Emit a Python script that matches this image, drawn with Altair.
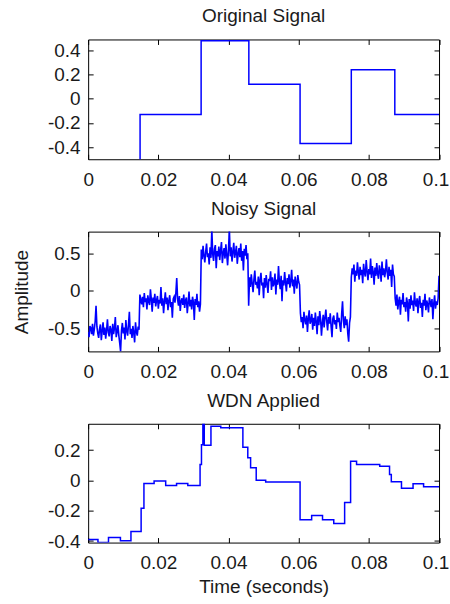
import altair as alt
import pandas as pd
import numpy as np

# ---------------- data ----------------
orig_t = [0.0, 0.0148, 0.0322, 0.0458, 0.0604, 0.0750, 0.0874, 0.1]
orig_v = [-0.55, -0.13, 0.48, 0.12, -0.37, 0.24, -0.13, -0.13]

# noisy signal, hundredths, read segment by segment
noisy_seg1 = [-55, -62, -47, -50, -58, -44, -60, -52, -41, -20,
              -48, -57, -63, -51, -45, -66, -54, -42, -59, -49,
              -64, -53, -38, -56, -61, -47, -52, -67, -44, -58,
              -50, -35, -62, -55, -46, -60, -70, -81, -53, -43,
              -57, -49, -65, -39, -54, -60, -45, -28, -58, -51,
              -63, -47, -56, -69, -42, -55, -60, -48, -52]
noisy_seg2 = [-5, -12, -18, -8, -22, -3, -15, -10, -25, -6,
              -14, -19, 2, -11, -28, -9, -16, -4, -21, -13,
              -7, -24, -12, -17, 5, -20, -10, -30, -14, -2,
              -18, -9, -26, -13, -6, -22, -15, -36, -11, -8,
              -16, -3, 17, -12, -20, -7, -27, -14, -10, -19,
              -5, -23, -13, -9, -30, -17, -1, -21, -12, -25,
              -8, -15, -39, -11, -19, -4, -22, -14, -28, -18]
noisy_seg3 = [55, 42, 60, 47, 38, 52, 63, 45, 50, 35,
              58, 44, 82, 49, 40, 56, 61, 30, 53, 46,
              59, 41, 54, 65, 37, 50, 57, 43, 62, 48,
              34, 55, 82, 46, 58, 39, 52, 64, 44, 51,
              60, 36, 49, 57, 45, 63, 40, 53, 27, 56,
              47, 61, 42, 50]
noisy_seg4 = [-20, 18, 5, 22, 10, -2, 15, 27, 8, 12,
              3, 19, -6, 14, 24, 7, 11, -10, 17, 4,
              21, 9, -3, 16, 13, 26, 1, 18, 6, 10,
              23, -5, 15, 8, 33, 12, 2, 20, -14, 14,
              7, 25, 11, -1, 17, 9, 22, 4, 13, 28,
              6, 15, -4, 19, 10, 3, 21, 12, 8]
noisy_seg5 = [-30, -42, -35, -50, -28, -39, -45, -33, -55, -37,
              -26, -44, -40, -31, -52, -36, -47, -29, -41, -58,
              -34, -46, -27, -38, -60, -43, -32, -49, -36, -25,
              -41, -53, -35, -44, -30, -48, -62, -37, -33, -45,
              -39, -51, -29, -42, -36, -47, -55, -31, -14, -40,
              -50, -34, -46, -38, -57, -68, -43, -35]
noisy_seg6 = [18, 30, 22, 35, 12, 27, 20, 38, 25, 15,
              32, 21, 28, 10, 36, 24, 19, 41, 26, 14,
              29, 22, 43, 17, 33, 25, 8, 31, 20, 37,
              23, 16, 34, 27, 12, 39, 21, 30, 18, 26,
              42, 24, 15, 32, 20, 28, 5, 35, 22, 19]
noisy_seg7 = [-10, -20, -5, -25, -14, -8, -32, -12, -18, -3,
              -22, -15, -28, -9, -16, -41, -11, -24, -6, -19,
              -13, -27, -2, -17, -21, -10, -30, -14, -7, -23,
              -16, -35, -12, -20, -4, -26, -13, -18, -29, -9,
              -15, -22, -11, -38, -17, -6, -24, -14, -19, -10,
              20]

wdn_t = [0.0, 0.0028, 0.0058, 0.0092, 0.0122, 0.0151, 0.0159, 0.0188, 0.0221,
         0.0252, 0.0284, 0.0319, 0.0323, 0.0327, 0.0331, 0.0350, 0.0378, 0.0441,
         0.0455, 0.0463, 0.0479, 0.0506, 0.0604, 0.0637, 0.0668, 0.0700, 0.0731,
         0.0748, 0.0765, 0.0831, 0.0859, 0.0864, 0.0893, 0.0926, 0.0956, 0.1]
wdn_v = [-0.389, -0.41, -0.376, -0.398, -0.337, -0.184, -0.020, -0.004, -0.033,
         -0.020, -0.033, 0.105, 0.236, 0.45, 0.232, 0.358, 0.348, 0.219,
         0.149, 0.083, 0.002, -0.011, -0.26, -0.232, -0.26, -0.284, -0.146,
         0.127, 0.105, 0.094, 0.04, -0.009, -0.052, -0.022, -0.042, -0.042]

x_ticks = [0, 0.02, 0.04, 0.06, 0.08, 0.1]

noisy_h = noisy_seg1 + noisy_seg2 + noisy_seg3 + noisy_seg4 + noisy_seg5 + noisy_seg6 + noisy_seg7
noisy_df = pd.DataFrame({"t": np.linspace(0, 0.1, len(noisy_h)), "v": [h / 100 for h in noisy_h]})
orig_df = pd.DataFrame({"t": orig_t, "v": orig_v})
wdn_df = pd.DataFrame({"t": wdn_t, "v": wdn_v})

FONT = "Liberation Sans"
FS = 19
TXT = "#1a1a1a"
W = 351.5


def panel(df, title, ydom, yticks, h, interp=None, sw=1.5, ytitle=None, xtitle=None):
    xs = alt.Scale(domain=[0, 0.1], nice=False, zero=False)
    ys = alt.Scale(domain=ydom, nice=False, zero=False)
    grid = dict(grid=True, gridColor="black", gridDash=[5, 4000], gridWidth=1,
                gridOpacity=1, ticks=False, domain=False)
    lab = dict(labelFont=FONT, labelFontSize=FS, labelColor=TXT,
               labelExpr="'' + datum.value", labelOverlap=False)
    xb_kw = dict(orient="bottom", values=x_ticks, labelPadding=11,
                 labelOffset={"condition": {"test": "datum.value >= 0.099", "value": -3.5},
                              "value": 0},
                 labelFlush=False, **grid, **lab)
    if xtitle:
        xb_kw.update(title=xtitle, titleFont=FONT, titleFontSize=FS, titleColor=TXT,
                     titleFontWeight="normal", titleBaseline="alphabetic",
                     titleX=W / 2, titleY=50, titleAlign="center")
    else:
        xb_kw.update(title=None)
    yl_kw = dict(orient="left", values=yticks, labelPadding=8, **grid, **lab)
    if ytitle:
        yl_kw.update(title=ytitle, titleFont=FONT, titleFontSize=FS, titleColor=TXT,
                     titleFontWeight="normal", titleBaseline="alphabetic",
                     titleAngle=270, titleX=-61, titleY=h / 2, titleAlign="center")
    else:
        yl_kw.update(title=None)
    mk = dict(color="#0000ff", strokeWidth=sw, clip=True)
    if interp:
        mk["interpolate"] = interp
    base = alt.Chart(df)
    l1 = base.mark_line(**mk).encode(
        x=alt.X("t:Q", scale=xs, axis=alt.Axis(**xb_kw)),
        y=alt.Y("v:Q", scale=ys, axis=alt.Axis(**yl_kw)),
    )
    l2 = base.mark_line(opacity=0, clip=True).encode(
        x=alt.X("t:Q", scale=xs, axis=alt.Axis(orient="top", values=x_ticks, labels=False,
                                                title=None, **grid)),
        y=alt.Y("v:Q", scale=ys, axis=alt.Axis(orient="right", values=yticks, labels=False,
                                                title=None, **grid)),
    )
    return alt.layer(l1, l2).resolve_axis(x="independent", y="independent").properties(
        width=W, height=h,
        title=alt.TitleParams(title, font=FONT, fontSize=FS, fontWeight="normal", color=TXT,
                              baseline="alphabetic", offset=-2, frame="group", anchor="middle"),
    )


p1 = panel(orig_df, "Original Signal", [-0.5, 0.49], [-0.4, -0.2, 0, 0.2, 0.4], 120,
           interp="step-after", sw=1.5)
p2 = panel(noisy_df, "Noisy Signal", [-0.81, 0.79], [-0.5, 0, 0.5], 120, sw=1.6,
           ytitle="Amplitude")
p3 = panel(wdn_df, "WDN Applied", [-0.41, 0.374], [-0.4, -0.2, 0, 0.2], 119,
           interp="step-after", sw=1.5, xtitle="Time (seconds)")

chart = alt.vconcat(p1, p2, p3, spacing=72.5, bounds="flush").properties(
    padding={"left": 11.3, "top": 6, "right": 0, "bottom": 0}
).configure(background="white").configure_view(stroke="#000000", strokeWidth=1, fill="white")

chart.save("out.html", embed_options={"renderer": "svg", "actions": False})
